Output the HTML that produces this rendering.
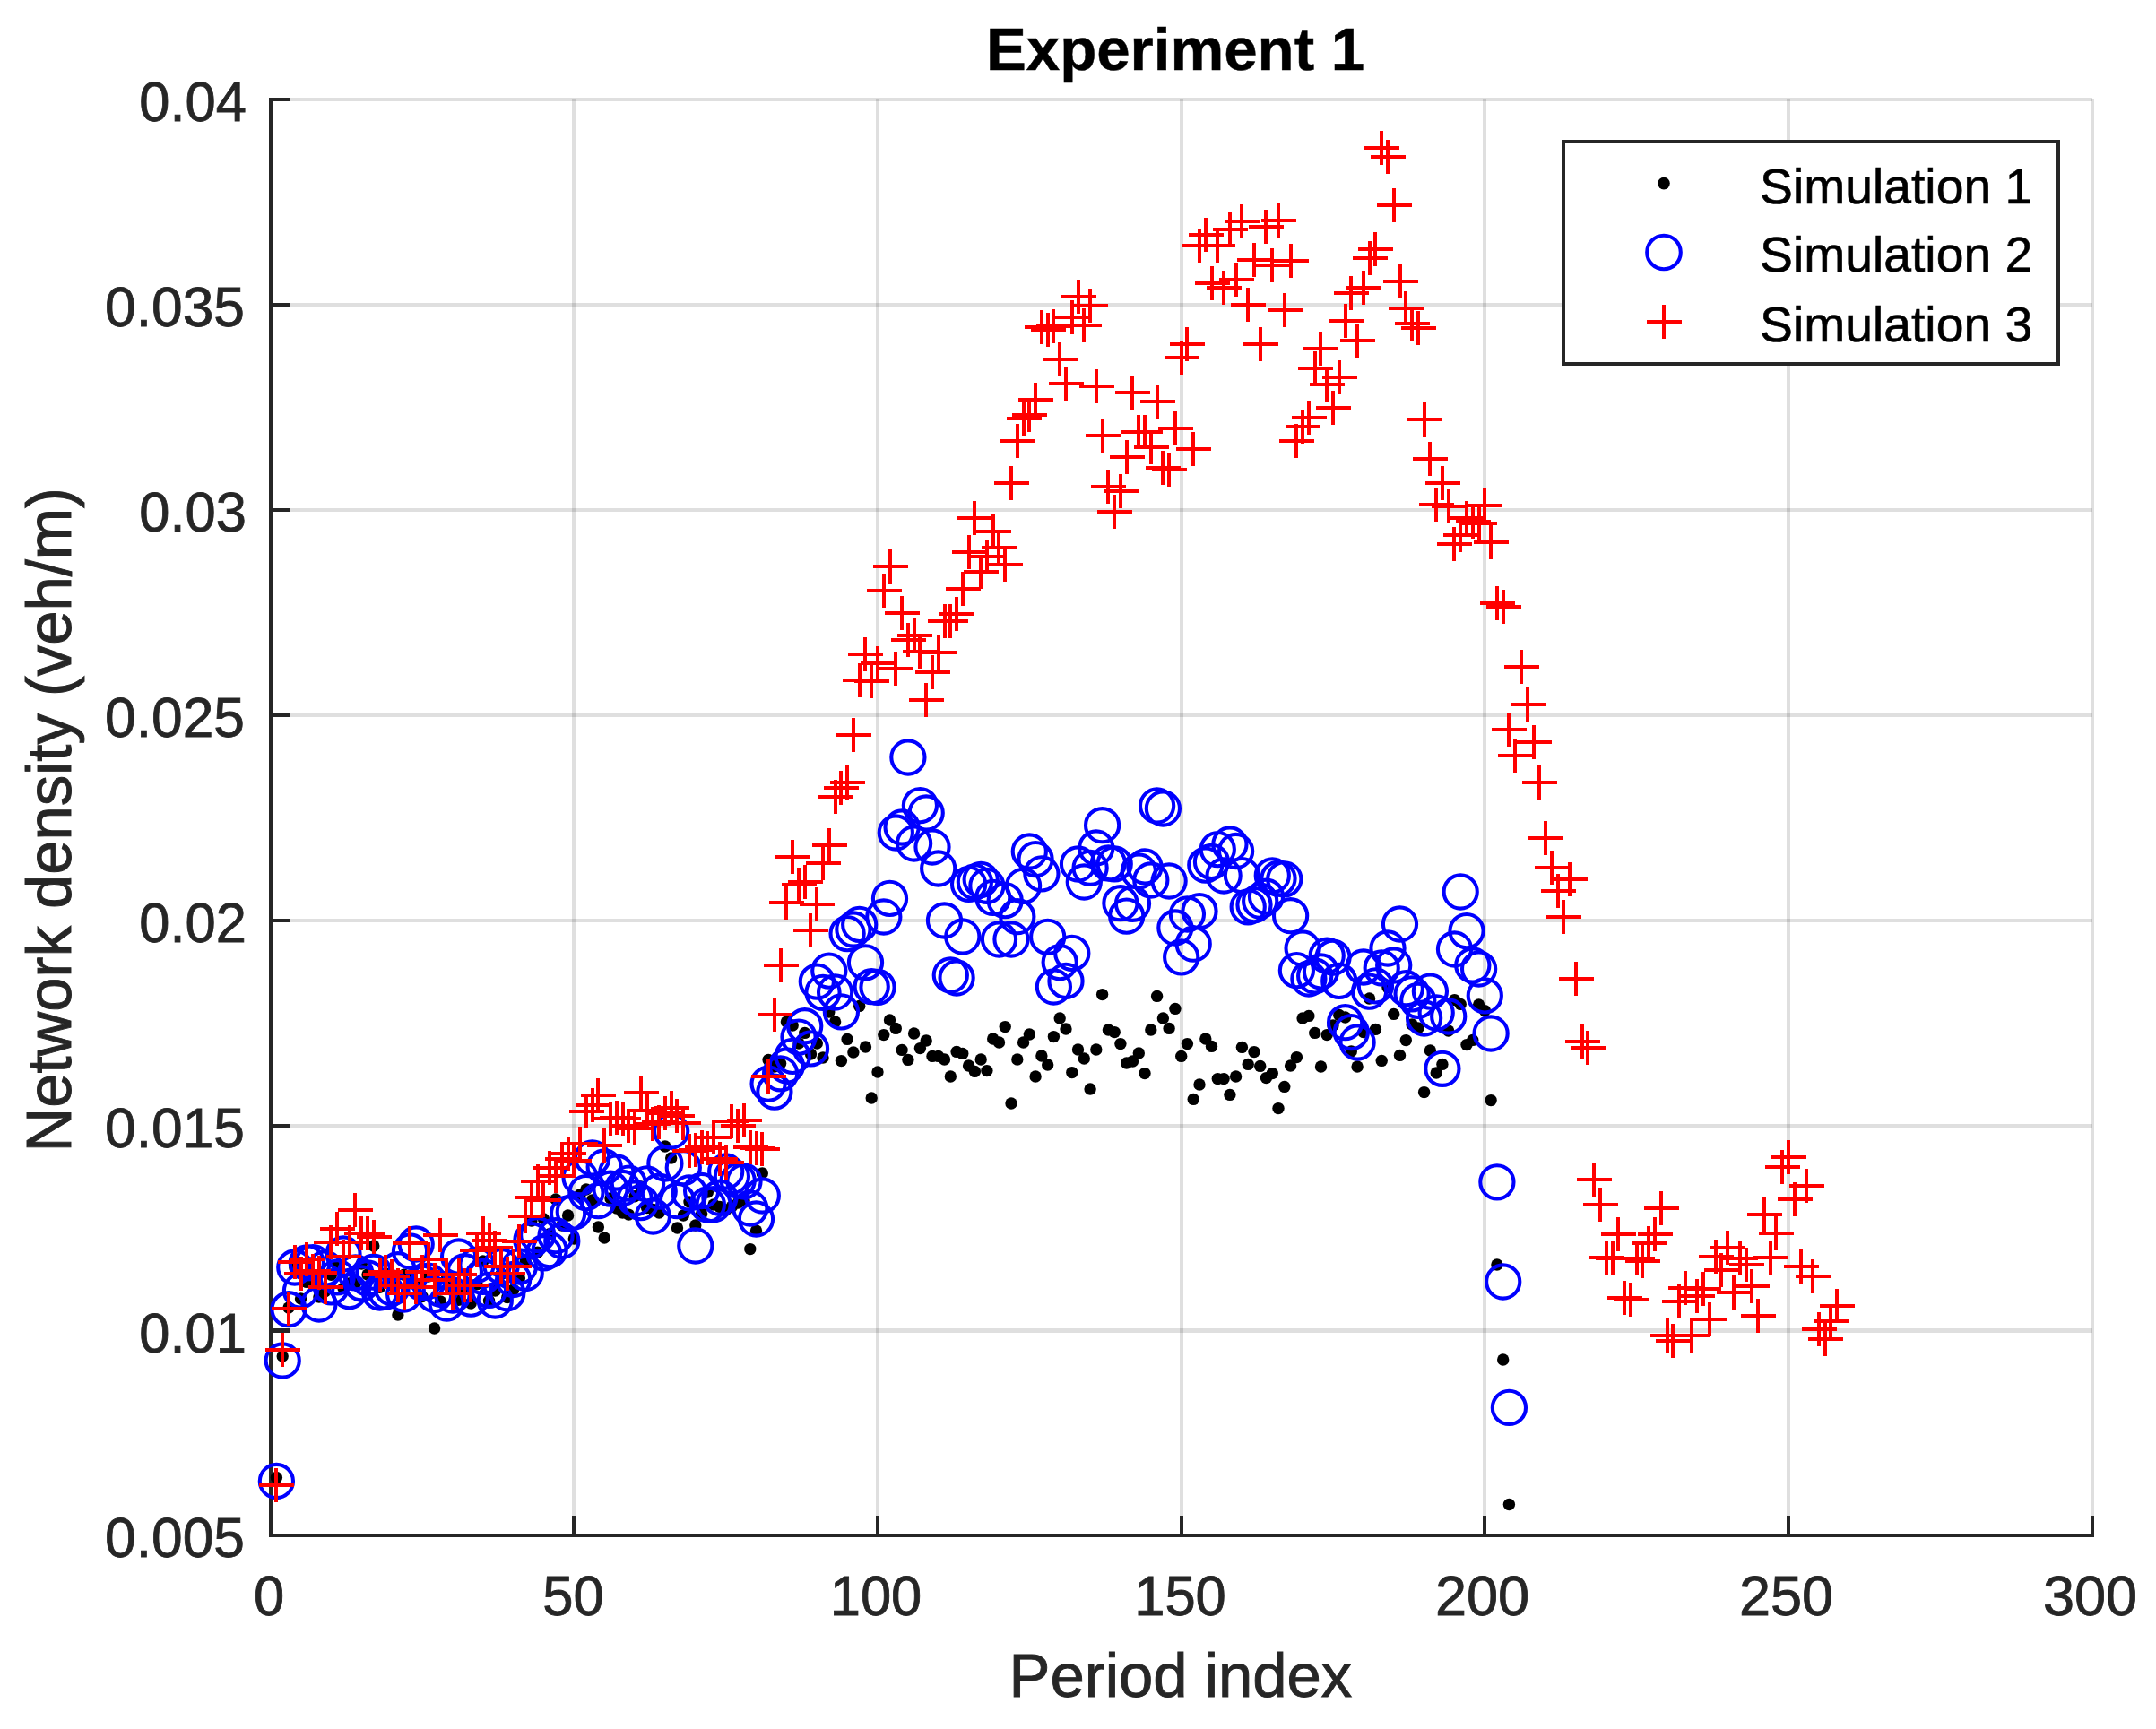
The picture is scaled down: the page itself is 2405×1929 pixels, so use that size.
<!DOCTYPE html>
<html><head><meta charset="utf-8"><title>Experiment 1</title>
<style>
html,body{margin:0;padding:0;background:#fff;}
body{width:2405px;height:1929px;overflow:hidden;}
svg{display:block;}
text{font-family:"Liberation Sans",Arial,Helvetica,sans-serif;}
.tk{font-size:61.5px;fill:#262626;stroke:#262626;stroke-width:.8px;}
.lb{font-size:67.5px;fill:#262626;stroke:#262626;stroke-width:.9px;}
.lg{font-size:55.3px;fill:#000;stroke:#000;stroke-width:.6px;}
.tt{font-size:67.5px;font-weight:bold;fill:#000;stroke:#000;stroke-width:.5px;}
.k circle{fill:#000;}
.b circle{fill:none;stroke:#0000ff;stroke-width:4.1;}
.r path{fill:none;stroke:#ff0000;stroke-width:4;shape-rendering:crispEdges;}
</style></head><body>
<svg width="2405" height="1929" viewBox="0 0 2405 1929">
<rect width="2405" height="1929" fill="#fff"/>

<g stroke="#262626" stroke-opacity="0.15" stroke-width="4">
<line x1="640" y1="111" x2="640" y2="1713"/>
<line x1="979" y1="111" x2="979" y2="1713"/>
<line x1="1318" y1="111" x2="1318" y2="1713"/>
<line x1="1656" y1="111" x2="1656" y2="1713"/>
<line x1="1995" y1="111" x2="1995" y2="1713"/>
<line x1="2334" y1="111" x2="2334" y2="1713"/>
<line x1="302" y1="1484.5" x2="2334" y2="1484.5" stroke-width="5"/>
<line x1="302" y1="1256" x2="2334" y2="1256" stroke-width="4"/>
<line x1="302" y1="1027" x2="2334" y2="1027" stroke-width="4"/>
<line x1="302" y1="798" x2="2334" y2="798" stroke-width="4"/>
<line x1="302" y1="569" x2="2334" y2="569" stroke-width="4"/>
<line x1="302" y1="340" x2="2334" y2="340" stroke-width="4"/>
<line x1="302" y1="111" x2="2334" y2="111" stroke-width="4"/>
</g>
<g stroke="#262626" stroke-width="4" fill="none">
<path d="M302 109V1713H2336" stroke-linejoin="miter"/>
<line x1="640" y1="1715" x2="640" y2="1691"/>
<line x1="979" y1="1715" x2="979" y2="1691"/>
<line x1="1318" y1="1715" x2="1318" y2="1691"/>
<line x1="1656" y1="1715" x2="1656" y2="1691"/>
<line x1="1995" y1="1715" x2="1995" y2="1691"/>
<line x1="2334" y1="1715" x2="2334" y2="1691"/>
<line x1="300" y1="1484.5" x2="324" y2="1484.5" stroke-width="5"/>
<line x1="300" y1="1256" x2="324" y2="1256" stroke-width="4"/>
<line x1="300" y1="1027" x2="324" y2="1027" stroke-width="4"/>
<line x1="300" y1="798" x2="324" y2="798" stroke-width="4"/>
<line x1="300" y1="569" x2="324" y2="569" stroke-width="4"/>
<line x1="300" y1="340" x2="324" y2="340" stroke-width="4"/>
<line x1="300" y1="111" x2="324" y2="111" stroke-width="4"/>
</g>
<g class="k"><circle cx="308.4" cy="1648.5" r="6.7"/><circle cx="315.2" cy="1513.0" r="6.7"/><circle cx="322.0" cy="1459.0" r="6.7"/><circle cx="328.8" cy="1414.0" r="6.7"/><circle cx="335.5" cy="1449.0" r="6.7"/><circle cx="342.3" cy="1430.4" r="6.7"/><circle cx="349.1" cy="1424.8" r="6.7"/><circle cx="355.9" cy="1447.0" r="6.7"/><circle cx="362.6" cy="1440.8" r="6.7"/><circle cx="369.4" cy="1422.3" r="6.7"/><circle cx="376.2" cy="1412.0" r="6.7"/><circle cx="383.0" cy="1437.1" r="6.7"/><circle cx="389.7" cy="1432.0" r="6.7"/><circle cx="396.5" cy="1431.7" r="6.7"/><circle cx="403.3" cy="1410.0" r="6.7"/><circle cx="410.0" cy="1421.9" r="6.7"/><circle cx="416.8" cy="1390.0" r="6.7"/><circle cx="423.6" cy="1436.2" r="6.7"/><circle cx="430.4" cy="1421.2" r="6.7"/><circle cx="437.1" cy="1433.9" r="6.7"/><circle cx="443.9" cy="1467.0" r="6.7"/><circle cx="450.7" cy="1422.2" r="6.7"/><circle cx="457.5" cy="1422.9" r="6.7"/><circle cx="464.2" cy="1433.6" r="6.7"/><circle cx="471.0" cy="1446.5" r="6.7"/><circle cx="477.8" cy="1424.0" r="6.7"/><circle cx="484.6" cy="1482.0" r="6.7"/><circle cx="491.3" cy="1452.0" r="6.7"/><circle cx="498.1" cy="1427.1" r="6.7"/><circle cx="504.9" cy="1440.1" r="6.7"/><circle cx="511.6" cy="1450.3" r="6.7"/><circle cx="518.4" cy="1438.5" r="6.7"/><circle cx="525.2" cy="1454.0" r="6.7"/><circle cx="532.0" cy="1432.7" r="6.7"/><circle cx="538.7" cy="1407.0" r="6.7"/><circle cx="545.5" cy="1451.2" r="6.7"/><circle cx="552.3" cy="1440.0" r="6.7"/><circle cx="559.1" cy="1421.5" r="6.7"/><circle cx="565.8" cy="1447.5" r="6.7"/><circle cx="572.6" cy="1439.0" r="6.7"/><circle cx="579.4" cy="1426.0" r="6.7"/><circle cx="586.2" cy="1407.6" r="6.7"/><circle cx="592.9" cy="1362.0" r="6.7"/><circle cx="599.7" cy="1397.3" r="6.7"/><circle cx="606.5" cy="1360.0" r="6.7"/><circle cx="613.2" cy="1376.6" r="6.7"/><circle cx="620.0" cy="1338.0" r="6.7"/><circle cx="626.8" cy="1367.0" r="6.7"/><circle cx="633.6" cy="1356.0" r="6.7"/><circle cx="640.3" cy="1382.0" r="6.7"/><circle cx="647.1" cy="1332.8" r="6.7"/><circle cx="653.9" cy="1327.0" r="6.7"/><circle cx="660.7" cy="1338.9" r="6.7"/><circle cx="667.4" cy="1369.0" r="6.7"/><circle cx="674.2" cy="1381.0" r="6.7"/><circle cx="681.0" cy="1337.0" r="6.7"/><circle cx="687.8" cy="1348.0" r="6.7"/><circle cx="694.5" cy="1353.0" r="6.7"/><circle cx="701.3" cy="1355.1" r="6.7"/><circle cx="708.1" cy="1334.8" r="6.7"/><circle cx="714.8" cy="1324.0" r="6.7"/><circle cx="721.6" cy="1347.6" r="6.7"/><circle cx="728.4" cy="1349.4" r="6.7"/><circle cx="735.2" cy="1353.0" r="6.7"/><circle cx="741.9" cy="1279.0" r="6.7"/><circle cx="748.7" cy="1292.0" r="6.7"/><circle cx="755.5" cy="1370.0" r="6.7"/><circle cx="762.3" cy="1356.0" r="6.7"/><circle cx="769.0" cy="1340.9" r="6.7"/><circle cx="775.8" cy="1367.0" r="6.7"/><circle cx="782.6" cy="1354.0" r="6.7"/><circle cx="789.4" cy="1330.0" r="6.7"/><circle cx="796.1" cy="1344.0" r="6.7"/><circle cx="802.9" cy="1346.5" r="6.7"/><circle cx="809.7" cy="1350.0" r="6.7"/><circle cx="816.4" cy="1346.0" r="6.7"/><circle cx="823.2" cy="1342.0" r="6.7"/><circle cx="830.0" cy="1339.6" r="6.7"/><circle cx="836.8" cy="1393.6" r="6.7"/><circle cx="843.5" cy="1373.0" r="6.7"/><circle cx="850.3" cy="1309.0" r="6.7"/><circle cx="857.1" cy="1182.4" r="6.7"/><circle cx="863.9" cy="1190.0" r="6.7"/><circle cx="870.6" cy="1186.6" r="6.7"/><circle cx="877.4" cy="1140.0" r="6.7"/><circle cx="884.2" cy="1144.0" r="6.7"/><circle cx="891.0" cy="1164.0" r="6.7"/><circle cx="897.7" cy="1152.4" r="6.7"/><circle cx="904.5" cy="1176.0" r="6.7"/><circle cx="911.3" cy="1164.0" r="6.7"/><circle cx="918.0" cy="1180.0" r="6.7"/><circle cx="924.8" cy="1129.0" r="6.7"/><circle cx="931.6" cy="1140.0" r="6.7"/><circle cx="938.4" cy="1183.6" r="6.7"/><circle cx="945.1" cy="1159.4" r="6.7"/><circle cx="951.9" cy="1174.0" r="6.7"/><circle cx="958.7" cy="1122.4" r="6.7"/><circle cx="965.5" cy="1168.0" r="6.7"/><circle cx="972.2" cy="1225.0" r="6.7"/><circle cx="979.0" cy="1196.0" r="6.7"/><circle cx="985.8" cy="1154.6" r="6.7"/><circle cx="992.5" cy="1138.0" r="6.7"/><circle cx="999.3" cy="1147.4" r="6.7"/><circle cx="1006.1" cy="1171.4" r="6.7"/><circle cx="1012.9" cy="1182.4" r="6.7"/><circle cx="1019.6" cy="1153.0" r="6.7"/><circle cx="1026.4" cy="1169.6" r="6.7"/><circle cx="1033.2" cy="1161.0" r="6.7"/><circle cx="1040.0" cy="1178.4" r="6.7"/><circle cx="1046.7" cy="1178.4" r="6.7"/><circle cx="1053.5" cy="1182.0" r="6.7"/><circle cx="1060.3" cy="1201.0" r="6.7"/><circle cx="1067.1" cy="1173.4" r="6.7"/><circle cx="1073.8" cy="1175.4" r="6.7"/><circle cx="1080.6" cy="1189.0" r="6.7"/><circle cx="1087.4" cy="1195.4" r="6.7"/><circle cx="1094.2" cy="1182.0" r="6.7"/><circle cx="1100.9" cy="1194.6" r="6.7"/><circle cx="1107.7" cy="1159.0" r="6.7"/><circle cx="1114.5" cy="1163.0" r="6.7"/><circle cx="1121.2" cy="1145.6" r="6.7"/><circle cx="1128.0" cy="1231.0" r="6.7"/><circle cx="1134.8" cy="1182.0" r="6.7"/><circle cx="1141.6" cy="1163.0" r="6.7"/><circle cx="1148.3" cy="1154.0" r="6.7"/><circle cx="1155.1" cy="1201.0" r="6.7"/><circle cx="1161.9" cy="1178.0" r="6.7"/><circle cx="1168.7" cy="1188.0" r="6.7"/><circle cx="1175.4" cy="1156.6" r="6.7"/><circle cx="1182.2" cy="1136.0" r="6.7"/><circle cx="1189.0" cy="1148.0" r="6.7"/><circle cx="1195.8" cy="1196.6" r="6.7"/><circle cx="1202.5" cy="1171.0" r="6.7"/><circle cx="1209.3" cy="1181.0" r="6.7"/><circle cx="1216.1" cy="1215.0" r="6.7"/><circle cx="1222.8" cy="1171.0" r="6.7"/><circle cx="1229.6" cy="1109.6" r="6.7"/><circle cx="1236.4" cy="1149.0" r="6.7"/><circle cx="1243.2" cy="1151.6" r="6.7"/><circle cx="1249.9" cy="1164.6" r="6.7"/><circle cx="1256.7" cy="1186.0" r="6.7"/><circle cx="1263.5" cy="1184.0" r="6.7"/><circle cx="1270.3" cy="1175.0" r="6.7"/><circle cx="1277.0" cy="1197.6" r="6.7"/><circle cx="1283.8" cy="1149.0" r="6.7"/><circle cx="1290.6" cy="1111.4" r="6.7"/><circle cx="1297.4" cy="1136.0" r="6.7"/><circle cx="1304.1" cy="1147.4" r="6.7"/><circle cx="1310.9" cy="1125.4" r="6.7"/><circle cx="1317.7" cy="1178.4" r="6.7"/><circle cx="1324.4" cy="1164.6" r="6.7"/><circle cx="1331.2" cy="1226.4" r="6.7"/><circle cx="1338.0" cy="1210.0" r="6.7"/><circle cx="1344.8" cy="1159.0" r="6.7"/><circle cx="1351.5" cy="1167.4" r="6.7"/><circle cx="1358.3" cy="1203.6" r="6.7"/><circle cx="1365.1" cy="1203.6" r="6.7"/><circle cx="1371.9" cy="1221.4" r="6.7"/><circle cx="1378.6" cy="1201.0" r="6.7"/><circle cx="1385.4" cy="1168.4" r="6.7"/><circle cx="1392.2" cy="1187.4" r="6.7"/><circle cx="1399.0" cy="1173.6" r="6.7"/><circle cx="1405.7" cy="1189.4" r="6.7"/><circle cx="1412.5" cy="1202.6" r="6.7"/><circle cx="1419.3" cy="1197.6" r="6.7"/><circle cx="1426.0" cy="1236.6" r="6.7"/><circle cx="1432.8" cy="1212.4" r="6.7"/><circle cx="1439.6" cy="1189.0" r="6.7"/><circle cx="1446.4" cy="1179.6" r="6.7"/><circle cx="1453.1" cy="1136.0" r="6.7"/><circle cx="1459.9" cy="1133.4" r="6.7"/><circle cx="1466.7" cy="1152.4" r="6.7"/><circle cx="1473.5" cy="1190.0" r="6.7"/><circle cx="1480.2" cy="1154.6" r="6.7"/><circle cx="1487.0" cy="1144.0" r="6.7"/><circle cx="1493.8" cy="1132.4" r="6.7"/><circle cx="1500.6" cy="1135.0" r="6.7"/><circle cx="1507.3" cy="1173.0" r="6.7"/><circle cx="1514.1" cy="1190.0" r="6.7"/><circle cx="1520.9" cy="1151.6" r="6.7"/><circle cx="1527.6" cy="1114.0" r="6.7"/><circle cx="1534.4" cy="1148.4" r="6.7"/><circle cx="1541.2" cy="1183.4" r="6.7"/><circle cx="1548.0" cy="1101.6" r="6.7"/><circle cx="1554.7" cy="1131.4" r="6.7"/><circle cx="1561.5" cy="1177.4" r="6.7"/><circle cx="1568.3" cy="1160.6" r="6.7"/><circle cx="1575.1" cy="1143.0" r="6.7"/><circle cx="1581.8" cy="1147.0" r="6.7"/><circle cx="1588.6" cy="1218.6" r="6.7"/><circle cx="1595.4" cy="1172.0" r="6.7"/><circle cx="1602.2" cy="1197.0" r="6.7"/><circle cx="1608.9" cy="1187.4" r="6.7"/><circle cx="1615.7" cy="1150.0" r="6.7"/><circle cx="1622.5" cy="1115.6" r="6.7"/><circle cx="1629.2" cy="1120.4" r="6.7"/><circle cx="1636.0" cy="1165.6" r="6.7"/><circle cx="1642.8" cy="1160.4" r="6.7"/><circle cx="1649.6" cy="1121.0" r="6.7"/><circle cx="1656.3" cy="1127.6" r="6.7"/><circle cx="1663.1" cy="1227.6" r="6.7"/><circle cx="1669.9" cy="1411.0" r="6.7"/><circle cx="1676.7" cy="1517.0" r="6.7"/><circle cx="1683.4" cy="1678.5" r="6.7"/></g>
<g class="b"><circle cx="308.4" cy="1652.5" r="18.6"/><circle cx="315.2" cy="1518.0" r="18.6"/><circle cx="322.0" cy="1460.7" r="18.6"/><circle cx="328.8" cy="1414.0" r="18.6"/><circle cx="335.5" cy="1440.0" r="18.6"/><circle cx="342.3" cy="1408.8" r="18.6"/><circle cx="349.1" cy="1408.6" r="18.6"/><circle cx="355.9" cy="1455.0" r="18.6"/><circle cx="362.6" cy="1415.1" r="18.6"/><circle cx="369.4" cy="1435.9" r="18.6"/><circle cx="376.2" cy="1424.8" r="18.6"/><circle cx="383.0" cy="1399.0" r="18.6"/><circle cx="389.7" cy="1440.6" r="18.6"/><circle cx="396.5" cy="1419.8" r="18.6"/><circle cx="403.3" cy="1431.8" r="18.6"/><circle cx="410.0" cy="1425.9" r="18.6"/><circle cx="416.8" cy="1419.2" r="18.6"/><circle cx="423.6" cy="1442.0" r="18.6"/><circle cx="430.4" cy="1441.0" r="18.6"/><circle cx="437.1" cy="1436.8" r="18.6"/><circle cx="443.9" cy="1416.7" r="18.6"/><circle cx="450.7" cy="1444.0" r="18.6"/><circle cx="457.5" cy="1396.0" r="18.6"/><circle cx="464.2" cy="1388.0" r="18.6"/><circle cx="471.0" cy="1431.3" r="18.6"/><circle cx="477.8" cy="1429.1" r="18.6"/><circle cx="484.6" cy="1444.5" r="18.6"/><circle cx="491.3" cy="1438.1" r="18.6"/><circle cx="498.1" cy="1454.0" r="18.6"/><circle cx="504.9" cy="1445.0" r="18.6"/><circle cx="511.6" cy="1402.0" r="18.6"/><circle cx="518.4" cy="1418.7" r="18.6"/><circle cx="525.2" cy="1449.1" r="18.6"/><circle cx="532.0" cy="1411.2" r="18.6"/><circle cx="538.7" cy="1424.4" r="18.6"/><circle cx="545.5" cy="1439.3" r="18.6"/><circle cx="552.3" cy="1451.0" r="18.6"/><circle cx="559.1" cy="1412.7" r="18.6"/><circle cx="565.8" cy="1442.7" r="18.6"/><circle cx="572.6" cy="1427.5" r="18.6"/><circle cx="579.4" cy="1413.0" r="18.6"/><circle cx="586.2" cy="1420.5" r="18.6"/><circle cx="592.9" cy="1383.7" r="18.6"/><circle cx="599.7" cy="1377.7" r="18.6"/><circle cx="606.5" cy="1397.9" r="18.6"/><circle cx="613.2" cy="1394.6" r="18.6"/><circle cx="620.0" cy="1378.7" r="18.6"/><circle cx="626.8" cy="1384.5" r="18.6"/><circle cx="633.6" cy="1354.0" r="18.6"/><circle cx="640.3" cy="1352.0" r="18.6"/><circle cx="647.1" cy="1313.8" r="18.6"/><circle cx="653.9" cy="1330.6" r="18.6"/><circle cx="660.7" cy="1292.0" r="18.6"/><circle cx="667.4" cy="1339.6" r="18.6"/><circle cx="674.2" cy="1302.0" r="18.6"/><circle cx="681.0" cy="1326.2" r="18.6"/><circle cx="687.8" cy="1308.0" r="18.6"/><circle cx="694.5" cy="1325.5" r="18.6"/><circle cx="701.3" cy="1320.1" r="18.6"/><circle cx="708.1" cy="1337.0" r="18.6"/><circle cx="714.8" cy="1341.6" r="18.6"/><circle cx="721.6" cy="1320.9" r="18.6"/><circle cx="728.4" cy="1357.0" r="18.6"/><circle cx="735.2" cy="1329.2" r="18.6"/><circle cx="741.9" cy="1298.0" r="18.6"/><circle cx="748.7" cy="1262.0" r="18.6"/><circle cx="755.5" cy="1339.6" r="18.6"/><circle cx="762.3" cy="1302.7" r="18.6"/><circle cx="769.0" cy="1330.9" r="18.6"/><circle cx="775.8" cy="1390.0" r="18.6"/><circle cx="782.6" cy="1328.5" r="18.6"/><circle cx="789.4" cy="1344.0" r="18.6"/><circle cx="796.1" cy="1343.7" r="18.6"/><circle cx="802.9" cy="1336.2" r="18.6"/><circle cx="809.7" cy="1307.0" r="18.6"/><circle cx="816.4" cy="1312.5" r="18.6"/><circle cx="823.2" cy="1317.0" r="18.6"/><circle cx="830.0" cy="1318.0" r="18.6"/><circle cx="836.8" cy="1348.0" r="18.6"/><circle cx="843.5" cy="1360.0" r="18.6"/><circle cx="850.3" cy="1334.0" r="18.6"/><circle cx="857.1" cy="1209.1" r="18.6"/><circle cx="863.9" cy="1218.1" r="18.6"/><circle cx="870.6" cy="1197.8" r="18.6"/><circle cx="877.4" cy="1189.0" r="18.6"/><circle cx="884.2" cy="1178.4" r="18.6"/><circle cx="891.0" cy="1157.1" r="18.6"/><circle cx="897.7" cy="1144.7" r="18.6"/><circle cx="904.5" cy="1169.9" r="18.6"/><circle cx="911.3" cy="1095.1" r="18.6"/><circle cx="918.0" cy="1107.3" r="18.6"/><circle cx="924.8" cy="1083.1" r="18.6"/><circle cx="931.6" cy="1107.0" r="18.6"/><circle cx="938.4" cy="1128.9" r="18.6"/><circle cx="945.1" cy="1041.6" r="18.6"/><circle cx="951.9" cy="1037.0" r="18.6"/><circle cx="958.7" cy="1031.4" r="18.6"/><circle cx="965.5" cy="1073.8" r="18.6"/><circle cx="972.2" cy="1100.7" r="18.6"/><circle cx="979.0" cy="1101.4" r="18.6"/><circle cx="985.8" cy="1023.0" r="18.6"/><circle cx="992.5" cy="1002.4" r="18.6"/><circle cx="999.3" cy="929.0" r="18.6"/><circle cx="1006.1" cy="923.0" r="18.6"/><circle cx="1012.9" cy="845.0" r="18.6"/><circle cx="1019.6" cy="941.0" r="18.6"/><circle cx="1026.4" cy="898.6" r="18.6"/><circle cx="1033.2" cy="907.0" r="18.6"/><circle cx="1040.0" cy="945.0" r="18.6"/><circle cx="1046.7" cy="969.0" r="18.6"/><circle cx="1053.5" cy="1027.0" r="18.6"/><circle cx="1060.3" cy="1088.0" r="18.6"/><circle cx="1067.1" cy="1091.0" r="18.6"/><circle cx="1073.8" cy="1045.0" r="18.6"/><circle cx="1080.6" cy="986.4" r="18.6"/><circle cx="1087.4" cy="983.9" r="18.6"/><circle cx="1094.2" cy="981.3" r="18.6"/><circle cx="1100.9" cy="988.3" r="18.6"/><circle cx="1107.7" cy="1001.4" r="18.6"/><circle cx="1114.5" cy="1048.0" r="18.6"/><circle cx="1121.2" cy="1004.6" r="18.6"/><circle cx="1128.0" cy="1048.0" r="18.6"/><circle cx="1134.8" cy="1022.7" r="18.6"/><circle cx="1141.6" cy="988.3" r="18.6"/><circle cx="1148.3" cy="950.0" r="18.6"/><circle cx="1155.1" cy="958.6" r="18.6"/><circle cx="1161.9" cy="974.9" r="18.6"/><circle cx="1168.7" cy="1045.3" r="18.6"/><circle cx="1175.4" cy="1101.0" r="18.6"/><circle cx="1182.2" cy="1073.6" r="18.6"/><circle cx="1189.0" cy="1094.4" r="18.6"/><circle cx="1195.8" cy="1063.4" r="18.6"/><circle cx="1202.5" cy="964.0" r="18.6"/><circle cx="1209.3" cy="984.0" r="18.6"/><circle cx="1216.1" cy="968.3" r="18.6"/><circle cx="1222.8" cy="946.0" r="18.6"/><circle cx="1229.6" cy="920.7" r="18.6"/><circle cx="1236.4" cy="963.0" r="18.6"/><circle cx="1243.2" cy="963.9" r="18.6"/><circle cx="1249.9" cy="1007.7" r="18.6"/><circle cx="1256.7" cy="1022.1" r="18.6"/><circle cx="1263.5" cy="1008.3" r="18.6"/><circle cx="1270.3" cy="972.0" r="18.6"/><circle cx="1277.0" cy="967.0" r="18.6"/><circle cx="1283.8" cy="982.0" r="18.6"/><circle cx="1290.6" cy="899.0" r="18.6"/><circle cx="1297.4" cy="902.0" r="18.6"/><circle cx="1304.1" cy="983.0" r="18.6"/><circle cx="1310.9" cy="1035.0" r="18.6"/><circle cx="1317.7" cy="1067.9" r="18.6"/><circle cx="1324.4" cy="1020.0" r="18.6"/><circle cx="1331.2" cy="1053.2" r="18.6"/><circle cx="1338.0" cy="1016.6" r="18.6"/><circle cx="1344.8" cy="965.1" r="18.6"/><circle cx="1351.5" cy="961.4" r="18.6"/><circle cx="1358.3" cy="947.6" r="18.6"/><circle cx="1365.1" cy="977.0" r="18.6"/><circle cx="1371.9" cy="942.0" r="18.6"/><circle cx="1378.6" cy="949.5" r="18.6"/><circle cx="1385.4" cy="976.6" r="18.6"/><circle cx="1392.2" cy="1011.8" r="18.6"/><circle cx="1399.0" cy="1009.6" r="18.6"/><circle cx="1405.7" cy="1005.2" r="18.6"/><circle cx="1412.5" cy="1000.2" r="18.6"/><circle cx="1419.3" cy="976.9" r="18.6"/><circle cx="1426.0" cy="980.2" r="18.6"/><circle cx="1432.8" cy="980.8" r="18.6"/><circle cx="1439.6" cy="1021.7" r="18.6"/><circle cx="1446.4" cy="1082.6" r="18.6"/><circle cx="1453.1" cy="1058.0" r="18.6"/><circle cx="1459.9" cy="1092.0" r="18.6"/><circle cx="1466.7" cy="1088.9" r="18.6"/><circle cx="1473.5" cy="1083.9" r="18.6"/><circle cx="1480.2" cy="1066.2" r="18.6"/><circle cx="1487.0" cy="1068.2" r="18.6"/><circle cx="1493.8" cy="1094.4" r="18.6"/><circle cx="1500.6" cy="1140.7" r="18.6"/><circle cx="1507.3" cy="1151.6" r="18.6"/><circle cx="1514.1" cy="1163.0" r="18.6"/><circle cx="1520.9" cy="1079.0" r="18.6"/><circle cx="1527.6" cy="1106.1" r="18.6"/><circle cx="1534.4" cy="1099.9" r="18.6"/><circle cx="1541.2" cy="1080.0" r="18.6"/><circle cx="1548.0" cy="1058.0" r="18.6"/><circle cx="1554.7" cy="1077.0" r="18.6"/><circle cx="1561.5" cy="1031.0" r="18.6"/><circle cx="1568.3" cy="1102.7" r="18.6"/><circle cx="1575.1" cy="1108.9" r="18.6"/><circle cx="1581.8" cy="1116.4" r="18.6"/><circle cx="1588.6" cy="1136.0" r="18.6"/><circle cx="1595.4" cy="1106.1" r="18.6"/><circle cx="1602.2" cy="1130.0" r="18.6"/><circle cx="1608.9" cy="1192.3" r="18.6"/><circle cx="1615.7" cy="1134.0" r="18.6"/><circle cx="1622.5" cy="1059.0" r="18.6"/><circle cx="1629.2" cy="995.0" r="18.6"/><circle cx="1636.0" cy="1038.6" r="18.6"/><circle cx="1642.8" cy="1077.0" r="18.6"/><circle cx="1649.6" cy="1081.0" r="18.6"/><circle cx="1656.3" cy="1110.9" r="18.6"/><circle cx="1663.1" cy="1153.0" r="18.6"/><circle cx="1669.9" cy="1318.8" r="18.6"/><circle cx="1676.7" cy="1430.0" r="18.6"/><circle cx="1683.4" cy="1570.4" r="18.6"/></g>
<g class="r"><path d="M288.5 1657h39M308 1638v38M295.5 1506h39M315 1487v38M302.5 1460h39M322 1441v38M309.5 1408h39M329 1389v38M316.5 1421h39M336 1402v38M322.5 1405h39M342 1386v38M329.5 1418h39M349 1399v38M336.5 1420h39M356 1401v38M343.5 1436h39M363 1417v38M349.5 1386h39M369 1367v38M356.5 1371h39M376 1352v38M363.5 1402h39M383 1383v38M370.5 1386h39M390 1367v38M376.5 1350h39M396 1331v38M383.5 1376h39M403 1357v38M390.5 1376h39M410 1357v38M397.5 1380h39M417 1361v38M404.5 1422h39M424 1403v38M410.5 1419h39M430 1400v38M417.5 1424h39M437 1405v38M424.5 1434h39M444 1415v38M431.5 1443h39M451 1424v38M437.5 1387h39M457 1368v38M444.5 1436h39M464 1417v38M451.5 1419h39M471 1400v38M458.5 1405h39M478 1386v38M465.5 1428h39M485 1409v38M471.5 1378h39M491 1359v38M478.5 1422h39M498 1403v38M485.5 1443h39M505 1424v38M492.5 1422h39M512 1403v38M498.5 1434h39M518 1415v38M505.5 1434h39M525 1415v38M512.5 1395h39M532 1376v38M519.5 1376h39M539 1357v38M526.5 1384h39M546 1365v38M532.5 1392h39M552 1373v38M539.5 1413h39M559 1394v38M546.5 1421h39M566 1402v38M553.5 1413h39M573 1394v38M559.5 1385h39M579 1366v38M566.5 1357h39M586 1338v38M573.5 1336h39M593 1317v38M580.5 1318h39M600 1299v38M586.5 1339h39M606 1320v38M593.5 1303h39M613 1284v38M600.5 1312h39M620 1293v38M607.5 1293h39M627 1274v38M614.5 1287h39M634 1268v38M620.5 1295h39M640 1276v38M627.5 1276h39M647 1257v38M634.5 1240h39M654 1221v38M641.5 1233h39M661 1214v38M647.5 1222h39M667 1203v38M654.5 1278h39M674 1259v38M661.5 1248h39M681 1229v38M668.5 1247h39M688 1228v38M675.5 1248h39M695 1229v38M681.5 1256h39M701 1237v38M688.5 1259h39M708 1240v38M695.5 1219h39M715 1200v38M702.5 1239h39M722 1220v38M708.5 1254h39M728 1235v38M715.5 1252h39M735 1233v38M722.5 1242h39M742 1223v38M729.5 1236h39M749 1217v38M735.5 1245h39M755 1226v38M742.5 1253h39M762 1234v38M749.5 1284h39M769 1265v38M756.5 1283h39M776 1264v38M763.5 1280h39M783 1261v38M769.5 1281h39M789 1262v38M776.5 1269h39M796 1250v38M783.5 1293h39M803 1274v38M790.5 1297h39M810 1278v38M796.5 1251h39M816 1232v38M803.5 1256h39M823 1237v38M810.5 1250h39M830 1231v38M817.5 1280h39M837 1261v38M824.5 1281h39M844 1262v38M830.5 1282h39M850 1263v38M837.5 1201h39M857 1182v38M844.5 1132h39M864 1113v38M851.5 1077h39M871 1058v38M857.5 1007h39M877 988v38M864.5 956h39M884 937v38M871.5 987h39M891 968v38M878.5 984h39M898 965v38M884.5 1038h39M904 1019v38M891.5 1009h39M911 990v38M898.5 963h39M918 944v38M905.5 943h39M925 924v38M912.5 889h39M932 870v38M918.5 879h39M938 860v38M925.5 873h39M945 854v38M932.5 820h39M952 801v38M939.5 759h39M959 740v38M945.5 730h39M965 711v38M952.5 760h39M972 741v38M959.5 740h39M979 721v38M966.5 659h39M986 640v38M973.5 632h39M993 613v38M979.5 746h39M999 727v38M986.5 684h39M1006 665v38M993.5 714h39M1013 695v38M1000.5 709h39M1020 690v38M1006.5 727h39M1026 708v38M1013.5 781h39M1033 762v38M1020.5 750h39M1040 731v38M1027.5 728h39M1047 709v38M1034.5 693h39M1054 674v38M1040.5 693h39M1060 674v38M1047.5 685h39M1067 666v38M1054.5 657h39M1074 638v38M1061.5 616h39M1081 597v38M1067.5 578h39M1087 559v38M1074.5 638h39M1094 619v38M1081.5 621h39M1101 602v38M1088.5 593h39M1108 574v38M1094.5 611h39M1114 592v38M1101.5 630h39M1121 611v38M1108.5 539h39M1128 520v38M1115.5 492h39M1135 473v38M1122.5 467h39M1142 448v38M1128.5 463h39M1148 444v38M1135.5 446h39M1155 427v38M1142.5 365h39M1162 346v38M1149.5 368h39M1169 349v38M1155.5 364h39M1175 345v38M1162.5 401h39M1182 382v38M1169.5 428h39M1189 409v38M1176.5 354h39M1196 335v38M1183.5 331h39M1203 312v38M1189.5 363h39M1209 344v38M1196.5 341h39M1216 322v38M1203.5 431h39M1223 412v38M1210.5 486h39M1230 467v38M1216.5 543h39M1236 524v38M1223.5 571h39M1243 552v38M1230.5 548h39M1250 529v38M1237.5 510h39M1257 491v38M1243.5 438h39M1263 419v38M1250.5 482h39M1270 463v38M1257.5 482h39M1277 463v38M1264.5 499h39M1284 480v38M1271.5 448h39M1291 429v38M1277.5 522h39M1297 503v38M1284.5 524h39M1304 505v38M1291.5 478h39M1311 459v38M1298.5 399h39M1318 380v38M1304.5 384h39M1324 365v38M1311.5 501h39M1331 482v38M1318.5 274h39M1338 255v38M1325.5 262h39M1345 243v38M1332.5 316h39M1352 297v38M1338.5 274h39M1358 255v38M1345.5 321h39M1365 302v38M1352.5 256h39M1372 237v38M1359.5 312h39M1379 293v38M1365.5 247h39M1385 228v38M1372.5 340h39M1392 321v38M1379.5 290h39M1399 271v38M1386.5 384h39M1406 365v38M1392.5 253h39M1412 234v38M1399.5 296h39M1419 277v38M1406.5 246h39M1426 227v38M1413.5 346h39M1433 327v38M1420.5 291h39M1440 272v38M1426.5 492h39M1446 473v38M1433.5 476h39M1453 457v38M1440.5 466h39M1460 447v38M1447.5 411h39M1467 392v38M1453.5 389h39M1473 370v38M1460.5 429h39M1480 410v38M1467.5 455h39M1487 436v38M1474.5 421h39M1494 402v38M1481.5 358h39M1501 339v38M1487.5 327h39M1507 308v38M1494.5 380h39M1514 361v38M1501.5 321h39M1521 302v38M1508.5 288h39M1528 269v38M1514.5 278h39M1534 259v38M1521.5 165h39M1541 146v38M1528.5 175h39M1548 156v38M1535.5 229h39M1555 210v38M1542.5 314h39M1562 295v38M1548.5 344h39M1568 325v38M1555.5 361h39M1575 342v38M1562.5 366h39M1582 347v38M1569.5 468h39M1589 449v38M1575.5 512h39M1595 493v38M1582.5 563h39M1602 544v38M1589.5 539h39M1609 520v38M1596.5 565h39M1616 546v38M1602.5 607h39M1622 588v38M1609.5 597h39M1629 578v38M1616.5 578h39M1636 559v38M1623.5 582h39M1643 563v38M1630.5 584h39M1650 565v38M1636.5 564h39M1656 545v38M1643.5 605h39M1663 586v38M1650.5 673h39M1670 654v38M1657.5 677h39M1677 658v38M1663.5 814h39M1683 795v38M1670.5 843h39M1690 824v38M1677.5 744h39M1697 725v38M1684.5 786h39M1704 767v38M1691.5 828h39M1711 809v38M1697.5 873h39M1717 854v38M1704.5 935h39M1724 916v38M1711.5 968h39M1731 949v38M1718.5 994h39M1738 975v38M1724.5 1023h39M1744 1004v38M1731.5 981h39M1751 962v38M1738.5 1092h39M1758 1073v38M1745.5 1162h39M1765 1143v38M1751.5 1169h39M1771 1150v38M1758.5 1316h39M1778 1297v38M1765.5 1344h39M1785 1325v38M1772.5 1403h39M1792 1384v38M1779.5 1404h39M1799 1385v38M1785.5 1377h39M1805 1358v38M1792.5 1448h39M1812 1429v38M1799.5 1450h39M1819 1431v38M1806.5 1404h39M1826 1385v38M1812.5 1407h39M1832 1388v38M1819.5 1387h39M1839 1368v38M1826.5 1377h39M1846 1358v38M1833.5 1348h39M1853 1329v38M1840.5 1490h39M1860 1471v38M1846.5 1496h39M1866 1477v38M1853.5 1452h39M1873 1433v38M1860.5 1437h39M1880 1418v38M1867.5 1490h39M1887 1471v38M1873.5 1446h39M1893 1427v38M1880.5 1438h39M1900 1419v38M1887.5 1472h39M1907 1453v38M1894.5 1402h39M1914 1383v38M1900.5 1417h39M1920 1398v38M1907.5 1392h39M1927 1373v38M1914.5 1442h39M1934 1423v38M1921.5 1404h39M1941 1385v38M1928.5 1411h39M1948 1392v38M1934.5 1435h39M1954 1416v38M1941.5 1468h39M1961 1449v38M1948.5 1355h39M1968 1336v38M1955.5 1403h39M1975 1384v38M1961.5 1376h39M1981 1357v38M1968.5 1302h39M1988 1283v38M1975.5 1291h39M1995 1272v38M1982.5 1338h39M2002 1319v38M1989.5 1413h39M2009 1394v38M1995.5 1323h39M2015 1304v38M2002.5 1424h39M2022 1405v38M2009.5 1483h39M2029 1464v38M2016.5 1494h39M2036 1475v38M2022.5 1474h39M2042 1455v38M2029.5 1457h39M2049 1438v38"/></g>
<text class="tk" text-anchor="middle" transform="translate(300 1801.8) scale(1 1.02)">0</text>
<text class="tk" text-anchor="middle" transform="translate(639.5 1801.8) scale(1 1.02)">50</text>
<text class="tk" text-anchor="middle" transform="translate(977 1801.8) scale(1 1.02)">100</text>
<text class="tk" text-anchor="middle" transform="translate(1316.5 1801.8) scale(1 1.02)">150</text>
<text class="tk" text-anchor="middle" transform="translate(1653.5 1801.8) scale(1.025 1.02)">200</text>
<text class="tk" text-anchor="middle" transform="translate(1992.5 1801.8) scale(1.025 1.02)">250</text>
<text class="tk" text-anchor="middle" transform="translate(2331.5 1801.8) scale(1.025 1.02)">300</text>
<text class="tk" text-anchor="end" transform="translate(273 1737) scale(1.013 1.015)">0.005</text>
<text class="tk" text-anchor="end" transform="translate(275 1508.5) scale(1 1.015)">0.01</text>
<text class="tk" text-anchor="end" transform="translate(273 1280) scale(1.013 1.015)">0.015</text>
<text class="tk" text-anchor="end" transform="translate(275 1051) scale(1 1.015)">0.02</text>
<text class="tk" text-anchor="end" transform="translate(273 822) scale(1.013 1.015)">0.025</text>
<text class="tk" text-anchor="end" transform="translate(275 593) scale(1 1.015)">0.03</text>
<text class="tk" text-anchor="end" transform="translate(273 364) scale(1.013 1.015)">0.035</text>
<text class="tk" text-anchor="end" transform="translate(275 135) scale(1 1.015)">0.04</text>
<text class="lb" text-anchor="middle" transform="translate(1316.9 1892.6) scale(1.02 1.02)">Period index</text>
<text class="lb" text-anchor="middle" transform="translate(79 914.7) rotate(-90) scale(1.019 1.04)">Network density (veh/m)</text>
<text class="tt" text-anchor="middle" transform="translate(1311 78.4) scale(0.996 1)">Experiment 1</text>
<rect x="1744" y="158" width="552" height="248" fill="#fff" stroke="#262626" stroke-width="4"/>
<g class="k"><circle cx="1856" cy="204.6" r="6.8"/></g>
<g class="b"><circle cx="1856" cy="281.5" r="18.8"/></g>
<g class="r"><path d="M1836.5 359h39M1856 340v38"/></g>
<g class="lg"><text transform="translate(1963 226.5) scale(1 1.02)">Simulation 1</text><text transform="translate(1963 303) scale(1 1.02)">Simulation 2</text><text transform="translate(1963 381) scale(1 1.02)">Simulation 3</text></g>
</svg></body></html>
